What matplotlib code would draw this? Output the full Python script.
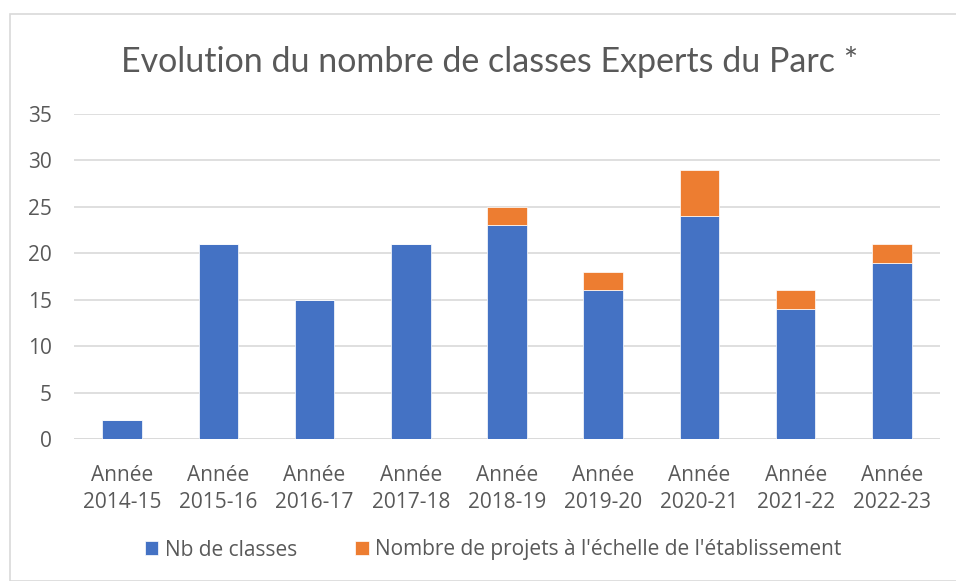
import matplotlib
matplotlib.use("Agg")
import matplotlib.pyplot as plt
from matplotlib.patches import Rectangle
import numpy as np

categories = ["Année\n2014-15", "Année\n2015-16", "Année\n2016-17", "Année\n2017-18",
              "Année\n2018-19", "Année\n2019-20", "Année\n2020-21", "Année\n2021-22",
              "Année\n2022-23"]
nb_classes = [2, 21, 15, 21, 23, 16, 24, 14, 19]
nb_projets = [0, 0, 0, 0, 2, 2, 5, 2, 2]
yticks = [0, 5, 10, 15, 20, 25, 30, 35]

plt.rcParams['font.family'] = ['Open Sans', 'DejaVu Sans']
TXT = '#595959'
W, H = 956, 581
fig = plt.figure(figsize=(W/100, H/100), dpi=100)
fig.patches.append(Rectangle((10/W, 0), 1, 1 - 14/H, transform=fig.transFigure,
                             fill=False, edgecolor='#D9D9D9', linewidth=1.2))

left, right, bottom, top = 74, 940, 439, 114
ax = fig.add_axes([left/W, 1 - bottom/H, (right-left)/W, (bottom-top)/H])
x = np.arange(len(categories))
ax.bar(x, nb_classes, width=0.41, color='#4472C4', label='Nb de classes', zorder=3,
       edgecolor='white', linewidth=0.5)
ax.bar(x, nb_projets, width=0.41, bottom=nb_classes, color='#ED7D31',
       label="Nombre de projets à l'échelle de l'établissement", zorder=3,
       edgecolor='white', linewidth=0.5)
ax.set_xlim(-0.5, len(categories) - 0.5)
ax.set_ylim(0, 35)
ax.set_yticks(yticks)
ax.grid(axis='y', color='#D9D9D9', linewidth=1.2, zorder=0)
for s in ax.spines.values():
    s.set_visible(False)
ax.tick_params(length=0, labelsize=15, colors=TXT)
ax.tick_params(axis='y', pad=16)
ax.set_xticks(x)
ax.set_xticklabels(categories, linespacing=1.35)
ax.tick_params(axis='x', pad=19)
ax.axhline(0, color='#D9D9D9', linewidth=1.2, zorder=2)

fig.text(490/W, 1 - 62/H, "Evolution du nombre de classes Experts du Parc *",
         ha='center', va='center', fontsize=24.5, color=TXT, family=['Lato', 'DejaVu Sans'])
fig.legend(loc='center', bbox_to_anchor=(493/W, 1 - 550/H), ncol=2, frameon=False,
           fontsize=15, labelcolor=TXT, handlelength=0.65, handleheight=0.65,
           handletextpad=0.3, columnspacing=2.8)
fig.savefig("out.png", dpi=100)
